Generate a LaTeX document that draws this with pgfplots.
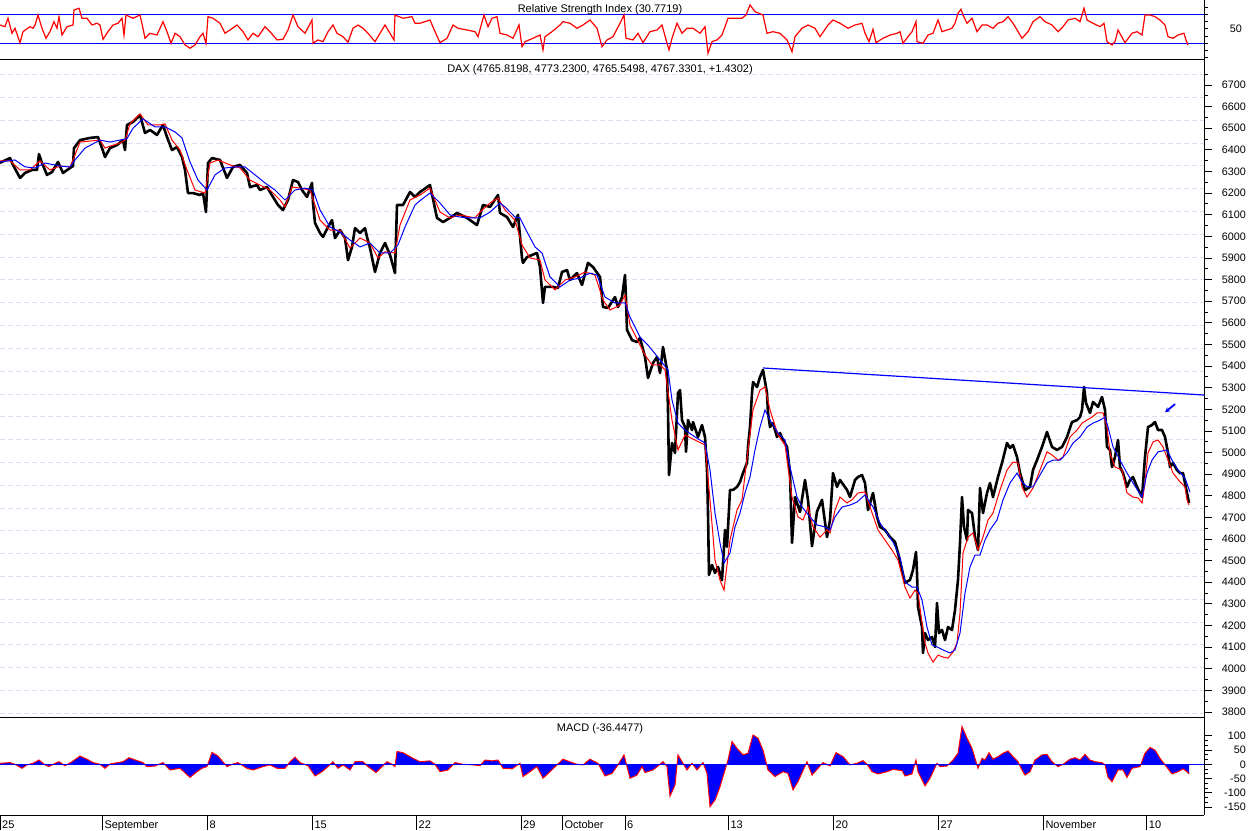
\documentclass[border=0pt]{standalone}
\usepackage{pgfplots}
\pgfplotsset{compat=1.18}
\usepackage{fontspec}
\setmainfont{Liberation Sans}
\usetikzlibrary{arrows.meta}
\definecolor{gridc}{RGB}{220,220,245}
\pgfplotsset{
  panel/.style={
    scale only axis, width=1204pt, xmin=0, xmax=1204,
    axis x line*=bottom, axis y line*=right,
    tick align=outside,
    ytick pos=right, yticklabel pos=right,
    axis line style={line width=1pt, black},
    every tick/.style={black, line width=0.8pt},
    major tick length=8pt, minor tick length=4pt,
    tick label style={font=\fontsize{10.8}{12}\selectfont},
    yticklabel style={anchor=east, inner sep=0pt, xshift=34pt},
    /pgf/number format/assume math mode=true,
    /pgf/number format/1000 sep={},
  }
}
\begin{document}
\begin{tikzpicture}
\useasboundingbox (0pt,0pt) rectangle (1250pt,830pt);
% ---------------- RSI ----------------
\begin{axis}[panel, at={(0pt,770.7pt)}, anchor=south west, height=59.3pt,
  ymin=7.9, ymax=89.7, xtick=\empty,
  ytick={10,20,30,40,50,60,70,80}, yticklabels={,,,,50,,,}, major tick length=4pt]
\addplot[blue, line width=1pt] coordinates {(0,70)(1204,70)};
\addplot[blue, line width=1pt] coordinates {(0,30)(1204,30)};
\addplot[red, line width=1.2pt] coordinates {
(0,55.2)(5,52.9)(8,64.5)(12,43.8)(15,50.7)(20,30.8)(23,46.0)(30,52.9)(33,50.7)(35,55.2)(38,69.0)(42,50.7)(46,36.9)(50,46.0)(54,59.8)(57,50.7)(59,66.7)(62,41.4)(67,52.9)(73,55.2)(74,75.9)(79,78.3)(82,64.5)(87,64.5)(92,55.2)(97,57.6)(100,55.2)(103,35.5)(108,46.0)(113,55.2)(118,57.6)(122,64.5)(124,41.4)(126,69.0)(133,64.5)(140,69.0)(143,50.7)(145,36.9)(150,43.8)(157,41.4)(163,59.8)(167,46.0)(171,30.0)(175,43.8)(180,39.1)(185,27.7)(190,23.1)(195,27.7)(200,39.1)(203,43.8)(206,30.0)(208,66.7)(213,64.5)(220,57.6)(225,43.8)(230,48.3)(237,55.2)(243,46.0)(248,34.6)(253,43.8)(258,39.1)(265,52.9)(270,46.0)(277,34.6)(283,35.5)(288,48.3)(293,69.0)(298,52.9)(305,43.8)(312,62.1)(313,30.0)(318,34.6)(323,32.2)(328,46.0)(333,55.2)(337,43.8)(343,39.1)(348,31.4)(353,50.7)(358,55.2)(363,50.7)(368,43.8)(375,32.2)(380,43.8)(385,55.2)(388,48.3)(394,34.6)(395,69.0)(403,64.5)(412,66.7)(415,57.6)(420,57.6)
(430,62.1)(435,46.0)(440,30.8)(447,36.9)(453,55.2)(458,50.7)(467,48.3)(475,46.0)(478,39.1)(484,69.0)(488,52.9)(492,64.5)(497,66.7)(500,43.8)(507,41.4)(513,36.9)(519,55.2)(522,25.3)(525,32.2)(533,36.9)(540,41.4)(543,20.8)(545,39.1)(552,46.0)(560,55.2)(563,59.8)(570,57.6)(577,50.7)(583,55.2)(590,62.1)(597,50.7)(602,25.3)(607,34.6)(613,39.1)(620,57.6)(624,69.0)(626,36.9)(633,34.6)(638,43.8)(643,30.8)(650,46.0)(657,48.3)(662,55.2)(667,30.0)(669,20.8)(672,36.9)(677,57.6)(682,43.8)(687,50.7)(693,50.7)(700,43.8)(705,52.9)(708,16.2)(712,32.2)(717,34.6)(722,41.4)(725,52.9)(728,64.5)(735,64.5)(742,64.5)(746,69.0)(750,82.8)(755,73.6)(763,69.0)(767,43.8)(773,46.0)(780,43.8)(787,34.6)(792,18.4)(795,39.1)(802,50.7)(808,55.2)(815,50.7)(820,39.1)(828,55.2)(833,62.1)(840,57.6)
(848,50.7)(855,55.2)(862,57.6)(865,43.8)(869,32.2)(873,49.3)(876,30.8)(883,36.9)(890,41.4)(897,43.8)(900,46.0)(903,30.0)(908,39.1)(912,46.0)(916,59.8)(917,32.2)(923,30.0)(928,41.4)(933,43.8)(938,62.1)(942,46.0)(947,48.3)(952,50.7)(955,57.6)(958,71.4)(961,76.9)(963,69.0)(967,57.6)(972,64.5)(977,46.0)(982,55.2)(987,55.2)(993,50.7)(998,57.6)(1003,59.8)(1008,66.7)(1013,57.6)(1022,36.9)(1028,46.0)(1033,59.8)(1040,66.7)(1045,59.8)(1052,55.2)(1058,46.0)(1063,52.9)(1068,62.1)(1075,64.5)(1080,59.8)(1084,78.3)(1087,62.1)(1093,57.6)(1100,52.9)(1104,57.6)(1107,32.2)(1112,27.7)(1115,32.2)(1118,48.3)(1125,30.8)(1132,43.8)(1137,46.0)(1142,41.4)(1145,69.0)(1150,69.0)(1155,66.7)(1160,62.1)(1165,55.2)(1168,39.1)(1173,36.9)(1178,41.4)(1184,43.8)(1186,34.6)(1188,27.7)
};
\end{axis}
% ---------------- DAX ----------------
\begin{axis}[panel, at={(0pt,112pt)}, anchor=south west, height=658.7pt,
  ymin=3772.25, ymax=6818.7, xtick=\empty,
  ytick={3800,3900,...,6700}, minor ytick={3850,3950,...,6750},
  extra y ticks={3794,3899.5,...,6749}, extra y tick labels={},
  extra y tick style={grid=major, major tick length=0pt},
  major grid style={gridc, dash pattern=on 5pt off 3pt, line width=0.8pt}]
\addplot[black, line width=2.6pt, line join=round] coordinates {
(0,6340)(10,6362)(13,6330)(20,6270)(25,6293)(32,6307)(37,6307)(39,6380)(42,6339)(47,6284)(52,6297)(58,6344)(63,6293)(70,6316)(73,6325)(74,6408)(80,6445)(90,6455)(98,6459)(102,6408)(105,6367)(110,6408)(117,6422)(123,6445)(125,6399)(127,6515)(133,6529)(140,6561)(145,6478)(150,6492)(157,6469)(163,6515)(167,6459)(172,6399)(177,6413)(182,6367)(185,6307)(188,6200)(193,6200)(200,6191)(203,6200)(206,6112)(208,6339)(212,6362)(220,6353)(227,6270)(233,6321)(240,6330)(247,6293)(250,6228)(257,6237)(260,6214)(267,6228)(273,6182)(278,6145)(283,6122)(288,6168)(293,6260)(298,6251)(302,6214)(307,6182)(312,6247)(313,6154)(315,6062)(320,6015)(323,5997)(328,6043)(332,6075)(335,5992)(340,6029)(345,5992)(348,5890)(352,5951)(355,6038)(360,6015)(365,6038)(367,5997)(370,5946)(375,5835)(380,5923)(385,5969)(390,5914)(395,5830)(397,6145)(403,6145)(410,6205)(415,6182)(420,6205)
(430,6237)(437,6085)(443,6066)(450,6085)(457,6108)(467,6085)(477,6052)(483,6145)(490,6136)(498,6191)(500,6108)(507,6089)(513,6043)(518,6099)(522,5900)(523,5877)(527,5904)(537,5923)(540,5858)(543,5692)(545,5766)(553,5766)(558,5761)(562,5835)(567,5844)(570,5798)(577,5830)(582,5775)(588,5877)(593,5858)(600,5812)(603,5673)(608,5669)(615,5719)(618,5673)(622,5719)(625,5821)(626,5710)(627,5567)(632,5520)(637,5511)(640,5530)(645,5442)(648,5345)(653,5414)(657,5442)(660,5368)(663,5488)(667,5382)(668,5197)(669,4896)(672,5044)(675,4998)(678,5275)(680,5289)(682,5150)(685,5118)(686,5003)(688,5150)(692,5104)(693,5141)(698,5072)(702,5127)(705,5072)(707,4919)(708,4720)(709,4434)(712,4480)(715,4443)(718,4471)(722,4410)(725,4642)(727,4564)(730,4827)(733,4827)(737,4841)(740,4864)(743,4905)(747,4952)(748,5026)(750,5118)(752,5275)(753,5326)(757,5303)(760,5349)(763,5382)(767,5275)(768,5183)(770,5118)(773,5136)(777,5072)(780,5090)(783,5058)(787,5026)(790,4905)(792,4582)(795,4794)(800,4725)(805,4873)(808,4780)(812,4567)(817,4727)(822,4781)(827,4609)(830,4688)(833,4905)(837,4841)(840,4873)(847,4827)(850,4794)(855,4873)(858,4887)(862,4896)(865,4859)(868,4734)(873,4813)(877,4702)(880,4656)(885,4642)(890,4609)(895,4586)(898,4535)(902,4457)(905,4397)(910,4411)(913,4457)(916,4540)(917,4443)(918,4286)(922,4193)(923,4073)(925,4165)(928,4133)(932,4147)(935,4101)(937,4304)(939,4165)(942,4179)(945,4133)(948,4193)(952,4179)(955,4272)(958,4411)(960,4582)(962,4794)(964,4656)(967,4595)(968,4734)(972,4720)(975,4609)(978,4549)(980,4836)(983,4720)(987,4813)(990,4859)(993,4794)(998,4887)(1002,4952)(1007,5044)(1010,5021)(1013,5035)(1017,4979)(1020,4905)(1025,4827)(1030,4841)(1033,4919)(1037,4965)(1042,5026)(1047,5095)(1052,5026)(1057,5012)(1062,5026)(1067,5072)(1072,5141)(1077,5150)(1080,5164)(1082,5197)(1084,5303)(1086,5229)(1090,5183)(1093,5234)(1098,5211)(1102,5257)(1105,5197)(1107,5026)(1110,5012)(1112,4933)(1115,4979)(1118,5058)(1120,4933)(1123,4905)(1127,4841)(1130,4873)(1133,4887)(1137,4841)(1142,4794)(1145,4979)(1148,5118)(1152,5127)(1155,5141)(1158,5104)(1162,5104)(1165,5072)(1168,4998)(1170,4933)(1173,4952)(1177,4919)(1180,4905)(1183,4905)(1185,4859)(1187,4813)(1189,4767)
};
\addplot[red, line width=1pt] coordinates {
(0,6349)(10,6349)(20,6307)(30,6307)(40,6349)(50,6307)(60,6325)(70,6321)(75,6376)(80,6436)(100,6445)(105,6408)(110,6417)(120,6431)(125,6445)(130,6520)(140,6566)(148,6515)(160,6515)(165,6520)(172,6445)(180,6399)(187,6307)(195,6214)(205,6200)(210,6339)(218,6353)(230,6330)(240,6316)(250,6260)(260,6237)(270,6214)(280,6168)(285,6136)(292,6228)(300,6223)(310,6214)(315,6145)(320,6075)(330,6029)(340,6029)(350,5946)(360,5992)(370,5969)(378,5900)(385,5928)(395,5923)(400,6052)(410,6168)(420,6191)(430,6223)(440,6112)(450,6085)(460,6099)(475,6085)(480,6112)(490,6154)(498,6177)(505,6122)(515,6075)(522,5960)(530,5900)(540,5890)(545,5798)(555,5752)(565,5798)(575,5812)(585,5835)(595,5821)(603,5705)(610,5659)(620,5682)(625,5728)(630,5590)(640,5497)(645,5451)(652,5405)(660,5405)(665,5382)(672,5150)(678,5012)(685,5081)(695,5058)(705,5035)(710,4781)(715,4503)(720,4410)(724,4364)(730,4595)(737,4734)(742,4781)(748,5012)(753,5197)(760,5289)(765,5303)(770,5197)(778,5081)(785,5035)(792,4794)(798,4702)(803,4688)(808,4748)(813,4656)(820,4609)(827,4642)(830,4628)(835,4734)(840,4794)(847,4767)(852,4781)(858,4813)(865,4818)(870,4748)(878,4642)(885,4595)(892,4549)(898,4503)(905,4378)(910,4327)(915,4364)(918,4350)(922,4212)(925,4119)(928,4073)(933,4031)(938,4063)(943,4054)(948,4049)(953,4077)(957,4119)(960,4258)(963,4535)(968,4609)(973,4628)(978,4549)(983,4609)(988,4688)(993,4720)(1000,4827)(1007,4919)(1013,4956)(1018,4952)(1022,4841)(1027,4794)(1033,4836)(1040,4919)(1047,5003)(1052,4989)(1058,4965)(1063,4979)(1070,5072)(1077,5104)(1082,5136)(1087,5150)(1092,5164)(1097,5183)(1103,5183)(1107,5118)(1110,4998)(1115,4933)(1122,4919)(1127,4813)(1133,4794)(1138,4790)(1142,4767)(1145,4859)(1148,4998)(1153,5049)(1158,5058)(1163,5026)(1168,4965)(1173,4905)(1180,4864)(1185,4841)(1187,4781)(1189,4757)
};
\addplot[blue, line width=1pt] coordinates {
(0,6344)(15,6353)(25,6321)(35,6316)(45,6339)(60,6325)(70,6321)(75,6353)(85,6408)(100,6445)(110,6436)(120,6445)(127,6452)(133,6500)(143,6543)(155,6506)(165,6506)(175,6483)(182,6455)(190,6344)(198,6260)(207,6214)(215,6284)(225,6316)(235,6321)(245,6321)(255,6284)(265,6247)(275,6214)(285,6168)(295,6214)(305,6223)(313,6214)(320,6122)(330,6043)(340,6020)(350,5983)(360,5951)(370,5969)(380,5923)(390,5923)(398,5960)(405,6043)(415,6145)(420,6165)(430,6200)(440,6154)(450,6099)(460,6089)(470,6085)(480,6085)(490,6112)(500,6154)(505,6136)(515,6089)(520,6085)(525,6038)(535,5951)(542,5923)(550,5812)(560,5766)(570,5798)(580,5807)(590,5830)(597,5821)(605,5719)(615,5692)(625,5692)(630,5627)(640,5534)(648,5497)(660,5428)(668,5382)(672,5243)(678,5136)(685,5104)(695,5072)(705,5044)(710,4919)(715,4720)(720,4582)(724,4489)(730,4535)(735,4656)(740,4720)(745,4813)(750,4887)(755,5012)(760,5118)(765,5197)(770,5150)(778,5090)(785,5058)(790,4933)(797,4794)(802,4748)(810,4702)(817,4665)(825,4656)(830,4642)(835,4702)(842,4748)(850,4757)(857,4771)(865,4804)(873,4748)(880,4674)(887,4628)(893,4586)(900,4517)(905,4401)(912,4378)(917,4378)(922,4318)(927,4193)(932,4110)(937,4101)(943,4087)(950,4073)(955,4087)(960,4165)(965,4350)(970,4471)(975,4526)(980,4526)(985,4595)(990,4642)(997,4688)(1003,4781)(1010,4859)(1017,4905)(1022,4864)(1027,4841)(1033,4841)(1040,4896)(1047,4952)(1053,4965)(1060,4965)(1067,4998)(1073,5044)(1080,5072)(1087,5118)(1093,5136)(1100,5150)(1105,5164)(1108,5118)(1113,5026)(1120,4965)(1127,4905)(1133,4859)(1142,4794)(1147,4905)(1152,4965)(1158,5003)(1167,5012)(1172,4965)(1178,4919)(1185,4882)(1190,4817)
};
\addplot[blue, line width=1.2pt] coordinates {(763,5391)(1204,5266)};
\addplot[blue, line width=1.8pt, -{Stealth[length=5pt,width=5pt]}] coordinates {(1175,5224)(1165,5186)};
\end{axis}
% ---------------- MACD ----------------
\begin{axis}[panel, at={(0pt,15pt)}, anchor=south west, height=97pt,
  ymin=-178.5, ymax=163, xtick=\empty,
  ytick={-150,-100,-50,0,50,100}, yticklabels={-150,-100,-50,0,50,100}, minor y tick num=2]
\addplot[fill=blue, draw=none] coordinates {
(0,3.5)(10,6)(15,0)(22,-14)(27,-2)(33,3.5)(39,15)(45,-2)(49,-8)(55,3.5)(59,9)(65,-5)(72,9)(80,29)(87,18)(93,6)(100,0)(105,-14)(110,1)(118,6)(123,9)(129,23)(137,13)(143,6)(147,-8)(155,-6)(163,6)(170,-20)(180,-14)(190,-46)(197,-26)(202,-14)(207,-8)(212,42)(218,29)(227,-8)(233,1)(238,6)(247,-14)(253,-20)(263,-8)(270,-2)(277,-14)(285,-14)(290,9)(295,25)(300,6)(308,-5)(315,-41)(322,-26)(328,-8)(333,9)(338,-14)(343,-2)(350,-20)(355,9)(363,9)(368,-8)(376,-29)(382,-8)(387,9)(392,0)(395,-8)(397,45)(403,41)(413,21)(420,9)
(430,12)(435,0)(440,-26)(448,-20)(455,6)(463,0)(473,-2)(480,-5)(485,15)(492,12)(498,15)(503,-14)(512,-16)(520,3.5)(523,-43)(530,-26)(537,-8)(543,-49)(550,-26)(557,-2)(563,18)(572,6)(577,0)(583,-2)(590,18)(598,3.5)(605,-41)(612,-32)(618,-2)(624,33)(627,-8)(630,-49)(637,-38)(642,-8)(645,-29)(653,-20)(658,-6)(663,9)(667,-8)(670,-112)(675,-73)(678,33)(682,9)(687,-20)(692,3.5)(697,-20)(703,6)(707,-32)(710,-149)(715,-126)(720,-79)(725,-20)(728,15)(732,80)(737,56)(743,33)(748,39)(753,103)(758,92)(763,50)(768,-20)(775,-43)(783,-26)(788,-32)(793,-90)(798,-61)(807,9)(812,-38)(818,-14)(823,6)(830,-6)(836,41)(843,27)(850,-2)(857,3.5)(863,13)(867,0)(872,-26)(878,-34)(887,-26)(893,-18)(902,-22)(905,-41)(912,-34)(916,15)(918,-26)(925,-76)(930,-49)(937,3.5)(940,-8)(947,-6)(953,15)(958,39)(962,133)(967,92)(972,56)(975,21)(978,-14)(982,21)(985,15)(989,41)(993,18)(998,27)(1003,39)(1008,47)(1013,27)(1018,9)(1022,-20)(1025,-38)(1030,-26)(1035,15)(1042,33)(1047,35)(1052,9)(1058,-8)(1063,0)(1070,18)(1075,23)(1080,15)(1085,35)(1090,15)(1095,9)(1102,6)(1105,-2)(1108,-46)(1112,-61)(1118,-20)(1123,-20)(1127,-46)(1132,-14)(1140,-8)(1145,39)(1150,59)(1155,50)(1160,21)(1165,-2)(1172,-34)(1178,-26)(1183,-16)(1187,-26)(1189,-34)
} \closedcycle;
\addplot[red, line width=1pt] coordinates {
(0,3.5)(10,6)(15,0)(22,-14)(27,-2)(33,3.5)(39,15)(45,-2)(49,-8)(55,3.5)(59,9)(65,-5)(72,9)(80,29)(87,18)(93,6)(100,0)(105,-14)(110,1)(118,6)(123,9)(129,23)(137,13)(143,6)(147,-8)(155,-6)(163,6)(170,-20)(180,-14)(190,-46)(197,-26)(202,-14)(207,-8)(212,42)(218,29)(227,-8)(233,1)(238,6)(247,-14)(253,-20)(263,-8)(270,-2)(277,-14)(285,-14)(290,9)(295,25)(300,6)(308,-5)(315,-41)(322,-26)(328,-8)(333,9)(338,-14)(343,-2)(350,-20)(355,9)(363,9)(368,-8)(376,-29)(382,-8)(387,9)(392,0)(395,-8)(397,45)(403,41)(413,21)(420,9)
(430,12)(435,0)(440,-26)(448,-20)(455,6)(463,0)(473,-2)(480,-5)(485,15)(492,12)(498,15)(503,-14)(512,-16)(520,3.5)(523,-43)(530,-26)(537,-8)(543,-49)(550,-26)(557,-2)(563,18)(572,6)(577,0)(583,-2)(590,18)(598,3.5)(605,-41)(612,-32)(618,-2)(624,33)(627,-8)(630,-49)(637,-38)(642,-8)(645,-29)(653,-20)(658,-6)(663,9)(667,-8)(670,-112)(675,-73)(678,33)(682,9)(687,-20)(692,3.5)(697,-20)(703,6)(707,-32)(710,-149)(715,-126)(720,-79)(725,-20)(728,15)(732,80)(737,56)(743,33)(748,39)(753,103)(758,92)(763,50)(768,-20)(775,-43)(783,-26)(788,-32)(793,-90)(798,-61)(807,9)(812,-38)(818,-14)(823,6)(830,-6)(836,41)(843,27)(850,-2)(857,3.5)(863,13)(867,0)(872,-26)(878,-34)(887,-26)(893,-18)(902,-22)(905,-41)(912,-34)(916,15)(918,-26)(925,-76)(930,-49)(937,3.5)(940,-8)(947,-6)(953,15)(958,39)(962,133)(967,92)(972,56)(975,21)(978,-14)(982,21)(985,15)(989,41)(993,18)(998,27)(1003,39)(1008,47)(1013,27)(1018,9)(1022,-20)(1025,-38)(1030,-26)(1035,15)(1042,33)(1047,35)(1052,9)(1058,-8)(1063,0)(1070,18)(1075,23)(1080,15)(1085,35)(1090,15)(1095,9)(1102,6)(1105,-2)(1108,-46)(1112,-61)(1118,-20)(1123,-20)(1127,-46)(1132,-14)(1140,-8)(1145,39)(1150,59)(1155,50)(1160,21)(1165,-2)(1172,-34)(1178,-26)(1183,-16)(1187,-26)(1189,-34)
};
\addplot[blue, line width=1pt] coordinates {(0,0)(1204,0)};
\end{axis}
% ---------------- date strip ----------------
\begin{axis}[scale only axis, width=1204pt, height=15pt, at={(0pt,0pt)}, anchor=south west,
  xmin=0, xmax=1204, ymin=0, ymax=1, ytick=\empty,
  axis line style={draw=none}, major tick length=0pt,
  xtick={0,102.3,207.3,312.3,416.5,521,562.3,625,728.3,833.5,938.3,1043.3,1146.7},
  xticklabels={25,September,8,15,22,29,October,6,13,20,27,November,10},
  xmajorgrids, major grid style={black, line width=1pt},
  xticklabel style={font=\fontsize{11}{12}\selectfont, anchor=base west, inner sep=0pt, xshift=2pt, yshift=2pt}]
\addplot[draw=none] coordinates {(0,0)(1204,1)};
\end{axis}
\node[anchor=base, font=\fontsize{11}{12}\selectfont] at (600pt,817.5pt) {Relative Strength Index (30.7719)};
\node[anchor=base, font=\fontsize{11}{12}\selectfont] at (600pt,757pt) {DAX (4765.8198, 4773.2300, 4765.5498, 4767.3301, +1.4302)};
\node[anchor=base, font=\fontsize{11}{12}\selectfont] at (600pt,99pt) {MACD (-36.4477)};
\end{tikzpicture}
\end{document}
